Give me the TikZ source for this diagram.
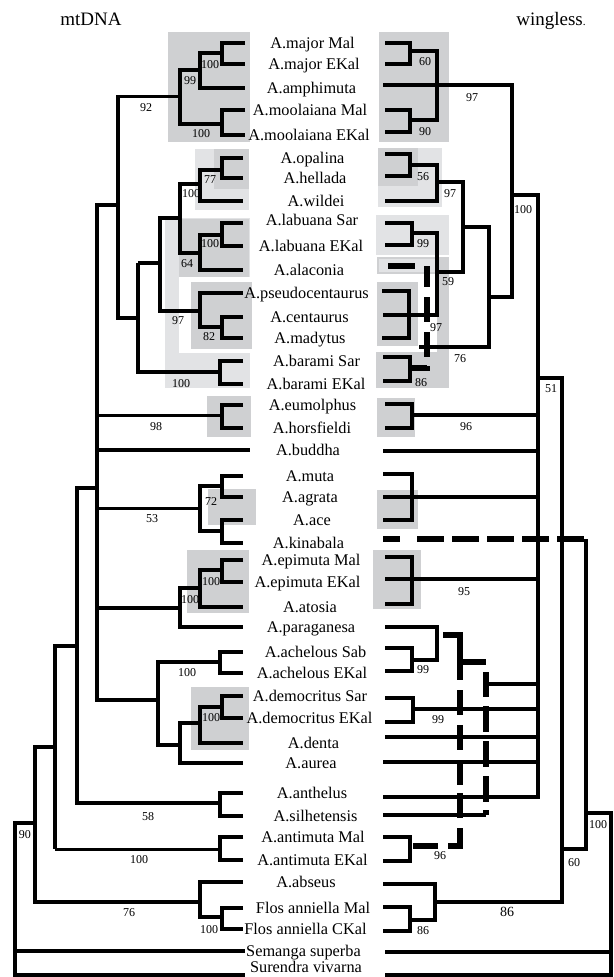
\documentclass[tikz,border=0pt]{standalone}
\usepackage{fontspec}
\setmainfont{Liberation Serif}
\definecolor{boxdark}{RGB}{207,208,210}
\definecolor{boxlight}{RGB}{226,227,229}
\begin{document}
\begin{tikzpicture}[x=1pt,y=-1pt,
  br/.style={line width=4.5pt, line join=miter, line cap=butt},
  thn/.style={line width=3pt, line cap=butt},
  dsh/.style={line width=6pt, line join=miter, line cap=butt},
  taxon/.style={font=\fontsize{16.3}{18}\selectfont, inner sep=0pt, anchor=base, yshift=-5.5pt},
  bs/.style={font=\fontsize{12}{13}\selectfont, inner sep=0pt, anchor=base, yshift=-4pt},
  ttl/.style={font=\fontsize{19}{21}\selectfont, inner sep=0pt, anchor=base, yshift=-6pt},
  dk/.style={fill=boxdark}, lt/.style={fill=boxlight}]
\useasboundingbox (0,0) rectangle (613,977);

% ---------- shaded clade boxes, mtDNA ----------
\path[dk] (168,32) rectangle (250,142);
\path[lt] (195,149) rectangle (249,210);
\path[dk] (214,149) rectangle (249,189);
\path[lt] (165,218) rectangle (250,388);
\path[fill=white] (179,277) rectangle (251,353);
\path[dk] (179,219) rectangle (249,277);
\path[dk] (191,282) rectangle (252,349);
\path[dk] (207,396) rectangle (251,437);
\path[dk] (208,489) rectangle (256,525);
\path[dk] (187,550) rectangle (249,613);
\path[dk] (191,687) rectangle (249,750);

% ---------- shaded clade boxes, wingless ----------
\path[dk] (379,32) rectangle (449,142);
\path[lt] (378,148) rectangle (442,207);
\path[dk] (378,148) rectangle (418,186);
\path[lt] (376,215) rectangle (449,255);
\path[lt, draw=boxdark, line width=2pt] (378,258) rectangle (436,273);
\path[dk] (437,257) rectangle (449,388);
\path[dk] (377,282) rectangle (418,346);
\path[dk] (376,352) rectangle (449,388);
\path[dk] (377,398) rectangle (415,437);
\path[dk] (377,490) rectangle (418,529);
\path[dk] (373,550) rectangle (421,609);

% ---------- titles ----------
\node[ttl] (mt) at (91,19) {mtDNA};
\node[ttl] (wg) at (551,19) {wingless\scalebox{0.6}{.}};

% ---------- taxon names ----------
\foreach \i/\x/\y/\t in {
 1/312.5/43/A.major Mal, 2/314/64/A.major EKal, 3/311.5/88/A.amphimuta,
 4/310/110/A.moolaiana Mal, 5/309/135/A.moolaiana EKal, 6/312.5/158/A.opalina,
 7/315/178/A.hellada, 8/316/201/A.wildei, 9/312/220/A.labuana Sar,
 10/311/246/A.labuana EKal, 11/309/270/A.alaconia, 12/306.5/293/A.pseudocentaurus,
 13/309.5/317/A.centaurus, 14/310/338/A.madytus, 15/316.5/361/A.barami Sar,
 16/316/384/A.barami EKal, 17/312.5/405/A.eumolphus, 18/312/428/A.horsfieldi,
 19/308/450/A.buddha, 20/310/476/A.muta, 21/310/497/A.agrata,
 22/312/520/A.ace, 23/308.5/543/A.kinabala, 24/311/560/A.epimuta Mal,
 25/307.5/582/A.epimuta EKal, 26/310/607/A.atosia, 27/311/627/A.paraganesa,
 28/315.5/652/A.achelous Sab, 29/312/673/A.achelous EKal, 30/310/696/A.democritus Sar,
 31/309.5/718/A.democritus EKal, 32/313.5/743/A.denta, 33/311/763/A.aurea,
 34/312/793/A.anthelus, 35/315.5/816/A.silhetensis, 36/313/837/A.antimuta Mal,
 37/312.5/860/A.antimuta EKal, 38/306/882/A.abseus, 39/313/908/Flos anniella Mal,
 40/305.5/929/Flos anniella CKal, 41/303.5/951/Semanga superba, 42/306/967/Surendra vivarna}
 \node[taxon] (tx\i) at (\x,\y) {\t};

% ---------- mtDNA tree ----------
\draw[br] (245,43) -| (222,64) -- (245,64);
\draw[br] (222,53) -| (200,88) -- (245,88);
\draw[br] (245,110) -| (222,135) -- (245,135);
\draw[br] (200,70) -| (180,124) -- (222,124);
\draw[thn] (180,96) -- (118,96);
\draw[br] (118,95) -- (118,318) -- (138,318);
\draw[br] (243,158) -| (222,178) -- (243,178);
\draw[br] (222,170) -| (200,201) -- (243,201);
\draw[br] (200,184) -| (180,253) -- (200,253);
\draw[br] (243,223) -| (222,246) -- (243,246);
\draw[br] (222,235) -| (200,270) -- (243,270);
\draw[br] (180,218) -| (160,311) -- (200,311);
\draw[br] (160,263) -- (138,263);
\draw[br] (243,293) -| (200,327) -- (222,327);
\draw[br] (243,317) -| (222,338) -- (243,338);
\draw[br] (138,263) -- (138,372) -- (220,372);
\draw[br] (243,361) -| (220,384) -- (243,384);
\draw[br] (117,205) -| (97,700) -- (158,700);
\draw[thn] (97,415) -- (220,415);
\draw[br] (243,405) -| (222,428) -- (243,428);
\draw[br] (97,450) -- (250,450);
\draw[thn] (97,508) -- (200,508);
\draw[br] (243,476) -| (222,497) -- (243,497);
\draw[br] (222,486) -| (200,531) -- (222,531);
\draw[br] (243,520) -| (222,543) -- (243,543);
\draw[br] (97,608) -- (180,608);
\draw[br] (243,560) -| (222,582) -- (243,582);
\draw[br] (222,570) -| (200,607) -- (243,607);
\draw[br] (200,588) -| (180,627) -- (243,627);
\draw[br] (243,652) -| (220,673) -- (243,673);
\draw[br] (220,662) -| (158,745) -- (180,745);
\draw[br] (243,696) -| (222,718) -- (243,718);
\draw[br] (222,707) -| (200,743) -- (243,743);
\draw[br] (200,723) -| (180,763) -- (243,763);
\draw[br] (97,488) -| (77,803) -- (220,803);
\draw[br] (243,793) -| (220,816) -- (243,816);
\draw[br] (77,646) -| (55,849);
\draw[thn] (55,849) -- (220,849);
\draw[br] (243,837) -| (220,860) -- (243,860);
\draw[br] (55,747) -| (35,902) -- (200,902);
\draw[br] (243,882) -| (200,917) -- (222,917);
\draw[br] (243,908) -| (222,929) -- (243,929);
\draw[br] (35,823) -| (15,975) -- (245,975);
\draw[br] (15,951) -- (245,951);

% ---------- mtDNA support values ----------
\node[bs] (m1) at (210,64) {100};
\node[bs] (m2) at (190,80) {99};
\node[bs] (m3) at (146,107) {92};
\node[bs] (m4) at (201,133) {100};
\node[bs] (m5) at (210,179) {77};
\node[bs] (m6) at (191,193) {100};
\node[bs] (m7) at (210,243) {100};
\node[bs] (m8) at (187,263) {64};
\node[bs] (m9) at (178,320) {97};
\node[bs] (m10) at (209,336) {82};
\node[bs] (m11) at (181,383) {100};
\node[bs] (m12) at (156,426) {98};
\node[bs] (m13) at (211,501) {72};
\node[bs] (m14) at (152,518) {53};
\node[bs] (m15) at (211,581) {100};
\node[bs] (m16) at (190,599) {100};
\node[bs] (m17) at (187,672) {100};
\node[bs] (m18) at (211,717) {100};
\node[bs] (m19) at (148,816) {58};
\node[bs] (m20) at (25,834) {90};
\node[bs] (m21) at (139,859) {100};
\node[bs] (m22) at (129,912) {76};
\node[bs] (m23) at (209,929) {100};

% ---------- wingless tree ----------
\draw[br] (385,43) -| (410,64) -- (385,64);
\draw[br] (410,51) -| (437,120) -- (410,120);
\draw[br] (385,110) -| (410,132) -- (385,132);
\draw[br] (383,85) -| (512,297) -- (488,297);
\draw[br] (512,195) -| (538,797) -- (383,797);
\draw[br] (385,154) -| (410,176) -- (385,176);
\draw[br] (410,165) -| (437,201) -- (385,201);
\draw[br] (437,182) -| (463,272) -- (437,272);
\draw[br] (385,223) -| (412,245) -- (385,245);
\draw[br] (412,233) -| (437,315) -- (383,315);
\draw[br] (382,291) -| (409,338) -- (382,338);
\draw[br] (463,227) -| (489,347) -- (419,347);
\draw[br] (383,357) -| (410,381) -- (383,381);
\draw[br] (385,404) -| (412,428) -- (385,428);
\draw[br] (412,415) -- (538,415);
\draw[br] (383,451) -- (538,451);
\draw[br] (383,474) -| (412,520) -- (383,520);
\draw[br] (383,497) -- (538,497);
\draw[br] (385,557) -| (412,604) -- (385,604);
\draw[br] (385,579) -- (538,579);
\draw[br] (385,627) -| (437,660) -- (412,660);
\draw[br] (385,648) -| (412,671) -- (385,671);
\draw[br] (486,684) -- (538,684);
\draw[br] (385,698) -| (413,722) -- (385,722);
\draw[br] (413,709) -- (540,709);
\draw[br] (385,737) -- (538,737);
\draw[br] (383,762) -- (538,762);
\draw[br] (383,815) -- (486,815);
\draw[br] (383,837) -| (410,861) -- (383,861);
\draw[br] (538,378) -| (562,902) -- (435,902);
\draw[br] (383,884) -| (435,920) -- (410,920);
\draw[br] (383,907) -| (410,931) -- (383,931);
\draw[br] (562,849) -- (586,849);
\draw[br] (586,539) -- (586,851);
\draw[br] (586,813) -| (611,975) -- (385,975);
\draw[br] (385,952) -- (611,952);

% ---------- dashed alternative placements ----------
\draw[dsh, dash pattern=on 27pt off 12pt on 21pt off 10pt on 25pt off 10pt on 25pt off 9pt on 30pt]
  (388,266) -- (427,266) -- (427,368) -- (410,368);
\draw[dsh, dash pattern=on 17pt off 17pt on 27pt off 8pt on 27pt off 8pt on 27pt off 8pt on 27pt off 8pt on 27pt off 8pt]
  (383,539) -- (586,539);
\draw[dsh, dash pattern=on 62pt off 10pt on 25pt off 10pt on 25pt off 10pt on 25pt off 8pt on 25pt off 10pt on 30pt off 10pt on 30pt]
  (443,635) -- (460,635) -- (460,846) -- (413,846);
\draw[dsh, dash pattern=on 26pt off 10pt on 25pt off 9pt on 26pt off 9pt on 26pt off 9pt on 26pt off 8pt on 20pt]
  (460,662) -- (486,662) -- (486,815);

% ---------- wingless support values ----------
\node[bs] (w1) at (425,61) {60};
\node[bs] (w2) at (425,131) {90};
\node[bs] (w3) at (472,97) {97};
\node[bs] (w4) at (423,176) {56};
\node[bs] (w5) at (450,193) {97};
\node[bs] (w6) at (523,209) {100};
\node[bs] (w7) at (423,243) {99};
\node[bs] (w8) at (448,281) {59};
\node[bs] (w9) at (436,327) {97};
\node[bs] (w10) at (460,358) {76};
\node[bs] (w11) at (421,382) {86};
\node[bs] (w12) at (551,388) {51};
\node[bs] (w13) at (466,426) {96};
\node[bs] (w14) at (464,591) {95};
\node[bs] (w15) at (423,669) {99};
\node[bs] (w16) at (438,719) {99};
\node[bs] (w17) at (440,855) {96};
\node[bs] (w18) at (598,824) {100};
\node[bs] (w19) at (574,862) {60};
\node[bs] (w20) at (423,930) {86};
\node[bs, font=\fontsize{14}{15}\selectfont] (w21) at (507,912) {86};
\end{tikzpicture}
\end{document}
